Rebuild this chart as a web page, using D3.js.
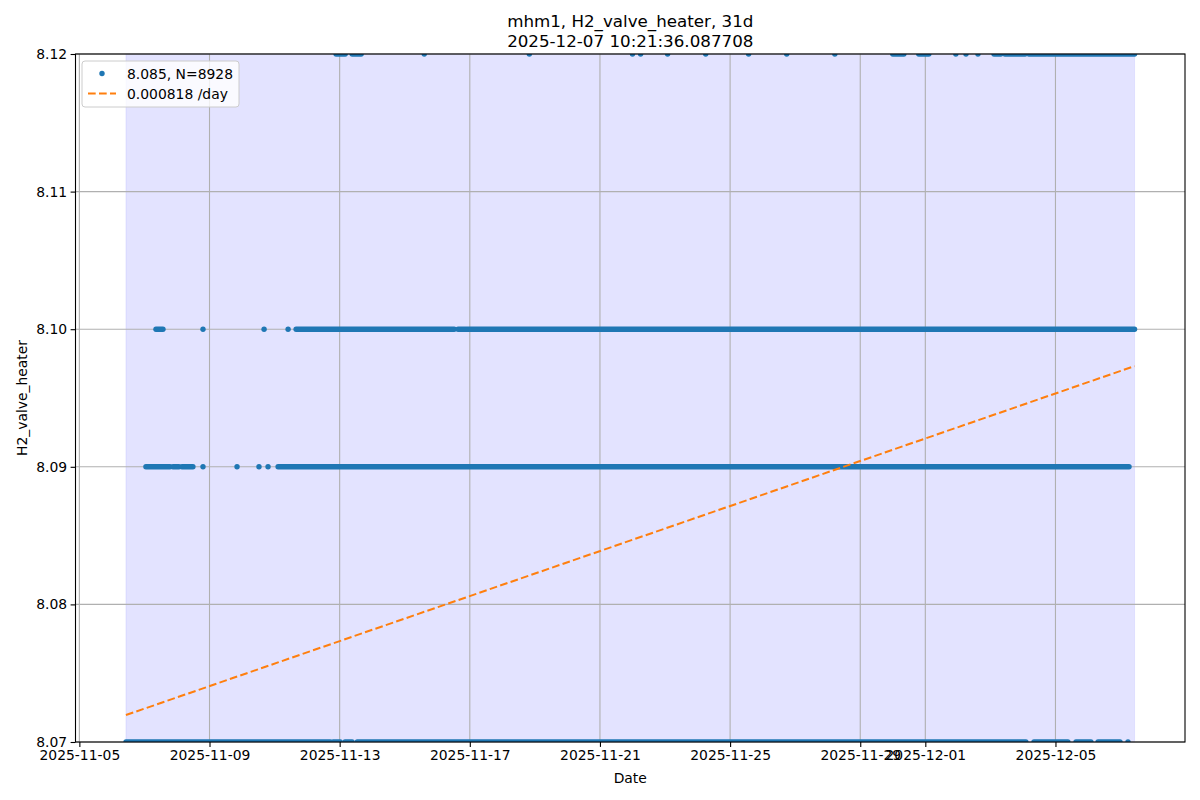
<!DOCTYPE html>
<html>
<head>
<meta charset="utf-8">
<script src="https://cdn.jsdelivr.net/npm/d3@7"></script>
<style>
  body { margin: 0; background: #fff; }
  text { font-family: "DejaVu Sans", sans-serif; fill: #000; }
</style>
</head>
<body>
<div id="chart"></div>
<script>
var width = 1200, height = 800
var margin = {left: 75.5, right: 15, top: 54, bottom: 58}

// span of the data (31 days)
var spanStart = "2025-11-06 10:21", spanEnd = "2025-12-07 10:21"

// y tick values
var yTicks = [8.07, 8.08, 8.09, 8.10, 8.11, 8.12]
var xTicks = ["2025-11-05", "2025-11-09", "2025-11-13", "2025-11-17", "2025-11-21",
              "2025-11-25", "2025-11-29", "2025-12-01", "2025-12-05"]

// runs of dense samples [from, to] and isolated samples, per level
var runs807 = [["2025-11-06 10:25", "2025-11-12 17:00"], ["2025-11-12 19:10", "2025-11-13 00:25"],
               ["2025-11-13 04:00", "2025-11-13 09:10"], ["2025-11-13 13:00", "2025-12-04 02:10"],
               ["2025-12-04 08:10", "2025-12-05 09:10"], ["2025-12-05 15:10", "2025-12-06 02:10"],
               ["2025-12-06 07:25", "2025-12-06 23:35"]]
var dots807 = ["2025-12-07 05:30"]

var runs809 = [["2025-11-07 01:06", "2025-11-07 18:50"], ["2025-11-07 21:03", "2025-11-08 01:27"],
               ["2025-11-08 03:42", "2025-11-08 11:46"], ["2025-11-11 02:35", "2025-12-07 06:15"]]
var dots809 = ["2025-11-08 19:12", "2025-11-09 20:18", "2025-11-10 12:30", "2025-11-10 19:11"]

var runs810 = [["2025-11-07 08:30", "2025-11-07 13:40"], ["2025-11-11 15:52", "2025-11-16 12:30"],
               ["2025-11-16 15:20", "2025-12-07 10:20"]]
var dots810 = ["2025-11-08 19:12", "2025-11-10 16:15", "2025-11-11 09:58"]

var runs812 = [["2025-11-12 21:22", "2025-11-13 04:05"], ["2025-11-13 09:14", "2025-11-13 15:51"],
               ["2025-11-30 00:00", "2025-11-30 08:10"], ["2025-11-30 19:10", "2025-12-01 02:35"],
               ["2025-12-03 02:40", "2025-12-03 07:40"], ["2025-12-03 10:45", "2025-12-04 01:35"],
               ["2025-12-04 04:25", "2025-12-07 10:20"]]
var dots812 = ["2025-11-15 14:24", "2025-11-18 19:55", "2025-11-22 00:00", "2025-11-22 06:00",
               "2025-11-23 01:55", "2025-11-24 06:00", "2025-11-25 13:40", "2025-11-26 17:45",
               "2025-11-28 05:15", "2025-12-01 22:30", "2025-12-02 06:00", "2025-12-02 14:50"]

var levels = [
  {v: 8.07, runs: runs807, dots: dots807},
  {v: 8.09, runs: runs809, dots: dots809},
  {v: 8.10, runs: runs810, dots: dots810},
  {v: 8.12, runs: runs812, dots: dots812}
]

// linear fit
var trendStart = 8.07196, slopePerDay = 0.000818
var meanLabel = "8.085, N=8928", slopeLabel = "0.000818 /day"

var parse = d3.timeParse("%Y-%m-%d %H:%M")
var parseDay = d3.timeParse("%Y-%m-%d")
var t0 = parse(spanStart), t1 = parse(spanEnd)
var pad = (t1 - t0) * 0.05

var x = d3.scaleTime()
    .domain([new Date(+t0 - pad), new Date(+t1 + pad)])
    .range([margin.left, width - margin.right])
var y = d3.scaleLinear()
    .domain([8.07, 8.12])
    .range([height - margin.bottom, margin.top])

var svg = d3.select("#chart").append("svg")
    .attr("width", width)
    .attr("height", height)

svg.append("defs").append("clipPath").attr("id", "clip")
  .append("rect")
    .attr("x", margin.left).attr("y", margin.top)
    .attr("width", width - margin.left - margin.right)
    .attr("height", height - margin.top - margin.bottom)

// shaded span
svg.append("rect")
    .attr("x", x(t0)).attr("width", x(t1) - x(t0))
    .attr("y", margin.top).attr("height", height - margin.top - margin.bottom)
    .attr("fill", "rgba(0,0,255,0.11)")
    .attr("stroke", "rgba(0,0,255,0.08)")

// grid
var grid = svg.append("g")
grid.selectAll(".gx").data(xTicks).enter().append("line")
    .attr("x1", d => x(parseDay(d))).attr("x2", d => x(parseDay(d)))
    .attr("y1", margin.top).attr("y2", height - margin.bottom)
    .attr("stroke", "#b0b0b0").attr("stroke-width", 1.1)
grid.selectAll(".gy").data(yTicks).enter().append("line")
    .attr("x1", margin.left).attr("x2", width - margin.right)
    .attr("y1", d => y(d)).attr("y2", d => y(d))
    .attr("stroke", "#b0b0b0").attr("stroke-width", 1.1)

// points
var pts = svg.append("g").attr("clip-path", "url(#clip)")
levels.forEach(function(lv) {
  pts.selectAll(null).data(lv.runs).enter().append("line")
      .attr("x1", d => x(parse(d[0]))).attr("x2", d => x(parse(d[1])))
      .attr("y1", y(lv.v)).attr("y2", y(lv.v))
      .attr("stroke", "#1f77b4").attr("stroke-width", 5.4)
      .attr("stroke-linecap", "round")
  pts.selectAll(null).data(lv.dots).enter().append("circle")
      .attr("cx", d => x(parse(d))).attr("cy", y(lv.v))
      .attr("r", 2.7).attr("fill", "#1f77b4")
})

// trend line
var days = (t1 - t0) / 864e5
svg.append("line")
    .attr("x1", x(t0)).attr("y1", y(trendStart))
    .attr("x2", x(t1)).attr("y2", y(trendStart + slopePerDay * days))
    .attr("stroke", "#ff7f0e").attr("stroke-width", 2)
    .attr("stroke-dasharray", "7.7,3.3")

// frame
svg.append("rect")
    .attr("x", margin.left).attr("y", margin.top)
    .attr("width", width - margin.left - margin.right)
    .attr("height", height - margin.top - margin.bottom)
    .attr("fill", "none").attr("stroke", "#000").attr("stroke-width", 1.1)

// axes
var xAxis = svg.append("g")
    .attr("transform", "translate(0," + (height - margin.bottom) + ")")
    .call(d3.axisBottom(x).tickValues(xTicks.map(parseDay))
        .tickFormat(d3.timeFormat("%Y-%m-%d")).tickSize(4.9).tickPadding(3.5))
var yAxis = svg.append("g")
    .attr("transform", "translate(" + margin.left + ",0)")
    .call(d3.axisLeft(y).tickValues(yTicks)
        .tickFormat(d3.format(".2f")).tickSize(4.9).tickPadding(3.5))
svg.selectAll(".domain").remove()
svg.selectAll(".tick text").style("font-size", "13.9px").style("font-family", "DejaVu Sans")
svg.selectAll(".tick line").attr("stroke", "#000").attr("stroke-width", 1.1)

// labels
svg.append("text").attr("x", (margin.left + width - margin.right) / 2).attr("y", 783)
    .attr("text-anchor", "middle").style("font-size", "13.9px").text("Date")
svg.append("text").attr("transform", "translate(27," + ((margin.top + height - margin.bottom) / 2) + ") rotate(-90)")
    .attr("text-anchor", "middle").style("font-size", "13.9px").text("H2_valve_heater")
svg.append("text").attr("x", (margin.left + width - margin.right) / 2).attr("y", 27)
    .attr("text-anchor", "middle").style("font-size", "16.7px").text("mhm1, H2_valve_heater, 31d")
svg.append("text").attr("x", (margin.left + width - margin.right) / 2).attr("y", 47)
    .attr("text-anchor", "middle").style("font-size", "16.7px").text("2025-12-07 10:21:36.087708")

// legend
var lg = svg.append("g")
lg.append("rect").attr("x", 82).attr("y", 61).attr("width", 157).attr("height", 46)
    .attr("rx", 3).attr("fill", "rgba(255,255,255,0.8)").attr("stroke", "#cccccc")
lg.append("circle").attr("cx", 102).attr("cy", 73.5).attr("r", 2.7).attr("fill", "#1f77b4")
lg.append("text").attr("x", 127).attr("y", 78.5).style("font-size", "13.9px").text(meanLabel)
lg.append("line").attr("x1", 88).attr("x2", 116).attr("y1", 93.5).attr("y2", 93.5)
    .attr("stroke", "#ff7f0e").attr("stroke-width", 2).attr("stroke-dasharray", "7.7,3.3")
lg.append("text").attr("x", 127).attr("y", 98.5).style("font-size", "13.9px").text(slopeLabel)
</script>
</body>
</html>
